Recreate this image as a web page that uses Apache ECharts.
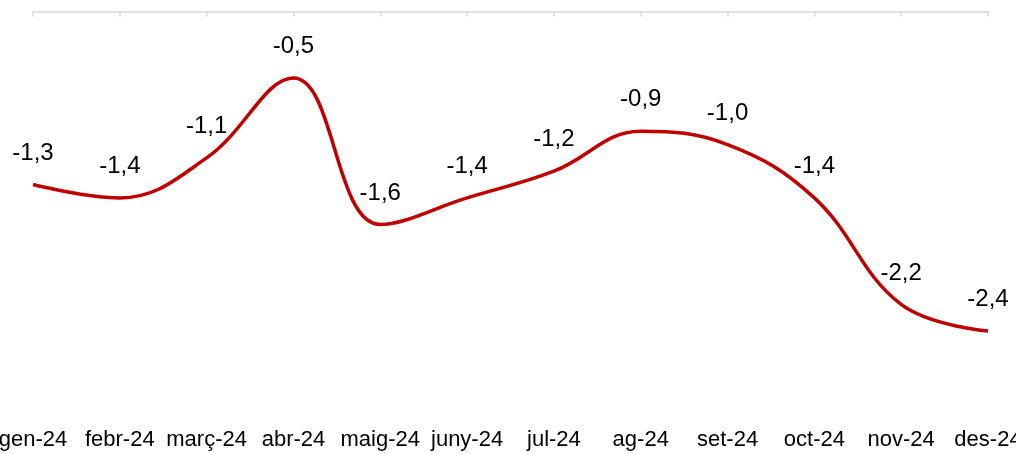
<!DOCTYPE html>
<html>
<head>
<meta charset="utf-8">
<script src="https://cdn.jsdelivr.net/npm/echarts@6/dist/echarts.min.js"></script>
<style>
html,body{margin:0;padding:0;background:#fff;}
#c{width:1016px;height:454px;}
</style>
</head>
<body>
<div id="c"></div>
<script>
const categories = ['gen-24','febr-24','març-24','abr-24','maig-24','juny-24','jul-24','ag-24','set-24','oct-24','nov-24','des-24'];
const values = [-1.3,-1.4,-1.1,-0.5,-1.6,-1.4,-1.2,-0.9,-1.0,-1.4,-2.2,-2.4];

const chart = echarts.init(document.getElementById('c'), null, {renderer:'canvas'});
chart.setOption({
  animation:false,
  backgroundColor:'#ffffff',
  grid:{left:33, right:28, top:11.4, bottom:43, containLabel:false, outerBoundsMode:'none'},
  xAxis:[{
    type:'category', data:categories, position:'bottom', boundaryGap:false,
    axisLine:{show:false}, axisTick:{show:false},
    axisLabel:{interval:0, margin:18, color:'#000', fontSize:22, fontFamily:'Liberation Sans, Arial, sans-serif', hideOverlap:false}
  },{
    type:'category', data:categories, position:'top', boundaryGap:false,
    axisLine:{show:true, lineStyle:{color:'#D9D9D9', width:1.5}},
    axisTick:{show:true, inside:true, length:5, lineStyle:{color:'#D9D9D9', width:1.5}},
    axisLabel:{show:false}
  }],
  yAxis:{type:'value', min:-3, max:0, show:false, splitLine:{show:false}},
  series:[{
    type:'line', data:values, xAxisIndex:0, smooth:0.4,
    symbol:'circle', symbolSize:1, showSymbol:true,
    itemStyle:{color:'rgba(0,0,0,0)'},
    lineStyle:{color:'#C00000', width:3.5},
    label:{show:true, position:'top', distance:19, color:'#000', fontSize:24,
      fontFamily:'Liberation Sans, Arial, sans-serif',
      formatter:p=>p.value.toFixed(1).replace('.',',')},
    labelLayout:{hideOverlap:false}
  }]
});
</script>
</body>
</html>
